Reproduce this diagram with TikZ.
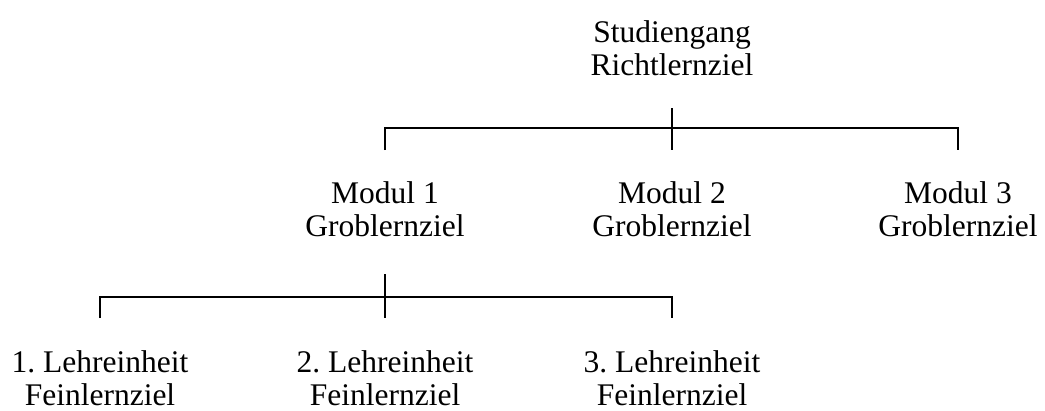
\documentclass[tikz,border=0pt]{standalone}
\usepackage{fontspec}
\setmainfont{Liberation Serif}
\frenchspacing

\tikzstyle{goal}=[align=center,font=\fontsize{31.5}{32.5}\selectfont,inner sep=0pt]
\tikzstyle{bar}=[line width=2pt]

\begin{document}
\begin{tikzpicture}[x=1pt,y=-1pt]
\useasboundingbox (0,0) rectangle (1045,410);

\node[goal] (studium) at (672,48) {Studiengang\\Richtlernziel};
\coordinate (sbot) at (672,108);

\foreach \x [count=\i] in {385,672,958}{% modules
    \node[goal] (modul\i) at (\x,209) {Modul \i\\Groblernziel};
    \coordinate (mtop\i) at (\x,128);
    \coordinate (mbot\i) at (\x,150);
}
\coordinate (lbot) at (385,274);

\foreach \x [count=\i] in {100,385,672}{% units
    \node[goal] (einheit\i) at (\x,378) {\i. Lehreinheit\\Feinlernziel};
    \coordinate (etop\i) at (\x,297);
    \coordinate (ebot\i) at (\x,318);
}

\draw[bar] (sbot) -- (mbot2);
\draw[bar] (mbot1) -- (mtop1) -- (mtop3) -- (mbot3);
\draw[bar] (lbot) -- (ebot2);
\draw[bar] (ebot1) -- (etop1) -- (etop3) -- (ebot3);

\end{tikzpicture}
\end{document}
